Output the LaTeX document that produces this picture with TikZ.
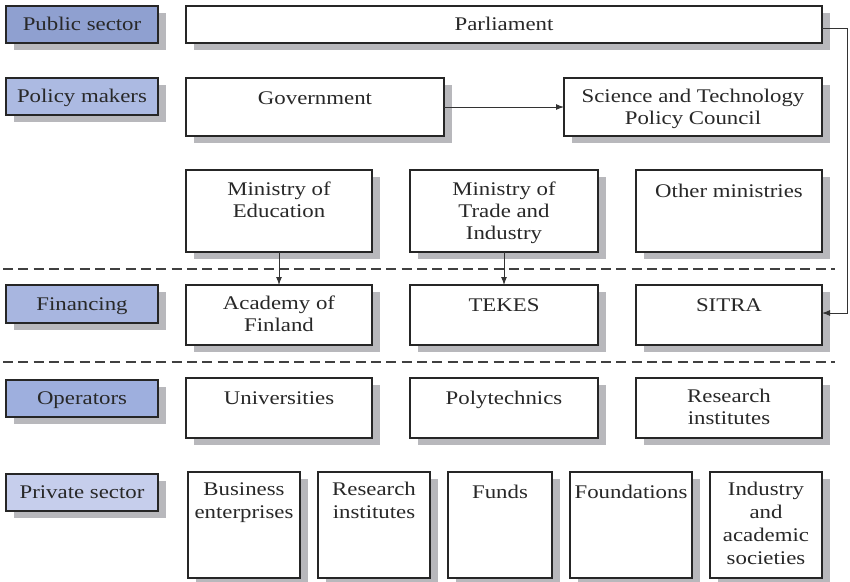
\documentclass[tikz,border=0pt]{standalone}
\usepackage{fontspec}
\setmainfont[FakeStretch=1.18]{Liberation Serif}
\usetikzlibrary{shadows,calc,arrows.meta}
\definecolor{pubC}{RGB}{143,160,208}
\definecolor{polC}{RGB}{172,186,226}
\definecolor{finC}{RGB}{168,182,224}
\definecolor{opeC}{RGB}{158,175,222}
\definecolor{priC}{RGB}{198,206,236}
\definecolor{shC}{RGB}{184,184,188}
\definecolor{txC}{RGB}{40,40,40}
\tikzset{
  bx/.style={draw=black!85, line width=0.8pt, fill=white, inner sep=0pt, outer sep=0pt,
    anchor=north west, text=txC, font=\fontsize{14.5}{16.5}\selectfont,
    text height=9.5pt, text depth=0.5pt,
    drop shadow={shadow xshift=6pt, shadow yshift=-5.5pt, fill=shC, opacity=1}},
  tx/.style={anchor=north, align=center, inner sep=0pt, text=txC,
    font=\fontsize{14.5}{16.5}\selectfont, execute at begin node=\strut},
  txp/.style={tx, font=\fontsize{14.5}{17.25}\selectfont},
  arr/.style={draw=black!80, line width=0.75pt, -{Latex[length=6pt,width=4.5pt]}},
  sep/.style={draw=black!75, line width=0.8pt, dash pattern=on 7.5pt off 4pt},
}
\newcommand\mkbox[7]{\node[bx,#6, minimum width={(#4-#2)*0.75pt}, minimum height={(#5-#3)*0.75pt}] (#1) at (#2,#3) {#7};}
\begin{document}
\begin{tikzpicture}[x=0.75pt,y=-0.75pt]
\useasboundingbox (0,0) rectangle (850,582);
% left labels
\mkbox{pubL}{6}{6}{158}{43}{fill=pubC}{Public sector}
\mkbox{polL}{6}{78}{158}{115}{fill=polC}{Policy makers}
\mkbox{finL}{6}{285}{158}{323}{fill=finC}{Financing}
\mkbox{opeL}{6}{380}{158}{417}{fill=opeC}{Operators}
\mkbox{priL}{6}{474}{158}{511}{fill=priC}{Private sector}
% right boxes
\mkbox{parl}{186}{6}{822}{43}{}{Parliament}
\mkbox{gov}{186}{78}{444}{136}{}{}
\mkbox{stc}{564}{78}{822}{136}{}{}
\mkbox{moe}{186}{170}{372}{252}{}{}
\mkbox{mti}{410}{170}{598}{252}{}{}
\mkbox{oth}{636}{170}{822}{252}{}{}
\mkbox{aca}{186}{285}{372}{345}{}{}
\mkbox{tek}{410}{285}{598}{345}{}{}
\mkbox{sit}{636}{285}{822}{345}{}{}
\mkbox{uni}{186}{378}{372}{438}{}{}
\mkbox{ply}{410}{378}{598}{438}{}{}
\mkbox{rin}{636}{378}{822}{438}{}{}
\mkbox{bus}{188}{472}{300}{578}{}{}
\mkbox{res}{318}{472}{430}{578}{}{}
\mkbox{fun}{448}{472}{552}{578}{}{}
\mkbox{fou}{570}{472}{692}{578}{}{}
\mkbox{ind}{710}{472}{822}{578}{}{}
% texts
\node[tx] (tgov) at ($(gov.north)+(0,10.5)$) {Government};
\node[tx] (tstc) at ($(stc.north)+(0,10.5)$) {Science and Technology\\Policy Council};
\node[tx] (tmoe) at ($(moe.north)+(0,11.5)$) {Ministry of\\Education};
\node[tx] (tmti) at ($(mti.north)+(0,11.5)$) {Ministry of\\Trade and\\Industry};
\node[tx] (toth) at ($(oth.north)+(0,11.5)$) {Other ministries};
\node[tx] (taca) at ($(aca.north)+(0,10.5)$) {Academy of\\Finland};
\node[tx] (ttek) at ($(tek.north)+(0,10.5)$) {TEKES};
\node[tx] (tsit) at ($(sit.north)+(0,10.5)$) {SITRA};
\node[tx] (tuni) at ($(uni.north)+(0,10.5)$) {Universities};
\node[tx] (tply) at ($(ply.north)+(0,10.5)$) {Polytechnics};
\node[tx] (trin) at ($(rin.north)+(0,10.5)$) {Research\\institutes};
\node[txp] (tbus) at ($(bus.north)+(0,10)$) {Business\\enterprises};
\node[txp] (tres) at ($(res.north)+(0,10)$) {Research\\institutes};
\node[txp] (tfun) at ($(fun.north)+(0,10)$) {Funds};
\node[txp] (tfou) at ($(fou.north)+(0,10)$) {Foundations};
\node[txp] (tind) at ($(ind.north)+(0,10)$) {Industry\\and\\academic\\societies};
% separators
\coordinate (s1a) at (3,269); \coordinate (s1b) at (835,269);
\coordinate (s2a) at (3,362); \coordinate (s2b) at (835,362);
\draw[sep] (s1a) -- (s1b);
\draw[sep] (s2a) -- (s2b);
% connectors
\draw[arr] (gov.east) -- (stc.west);
\draw[arr] (moe.south) -- (aca.north);
\draw[arr] (mti.south) -- (tek.north);
\draw[arr] ($(parl.east)+(0,3.5)$) -- ++(25,0) |- ($(sit.east)+(0,-2)$);
\end{tikzpicture}
\end{document}
